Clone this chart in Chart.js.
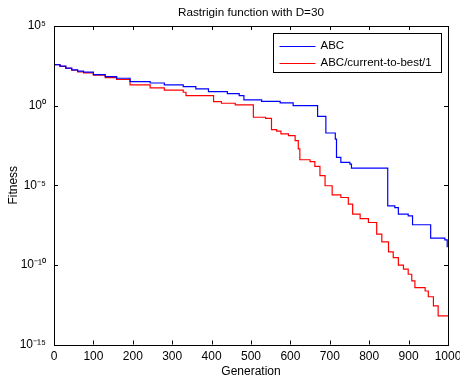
<!DOCTYPE html>
<html>
<head>
<meta charset="utf-8">
<script src="https://cdn.jsdelivr.net/npm/chart.js@4.4.0/dist/chart.umd.min.js"></script>
<style>
html,body{margin:0;padding:0;background:#fff;}
canvas{display:block;}
</style>
</head>
<body>
<canvas id="c" width="460" height="379"></canvas>
<script>
// ---- data ----
const chartTitle = 'Rastrigin function with D=30';
const xLabel = 'Generation';
const yLabel = 'Fitness';
const seriesNames = ['ABC', 'ABC/current-to-best/1'];
const xTicks = [0, 100, 200, 300, 400, 500, 600, 700, 800, 900, 1000];
const yTickExponents = [5, 0, -5, -10, -15];

const abcGen = [0, 15, 30, 45, 60, 75, 100, 130, 159, 193, 244, 280, 328, 360, 392, 440, 470, 482, 527, 574, 607, 669, 690, 714, 717, 728, 751, 755, 847, 865, 874, 899, 910, 956, 992, 998];
const abcFit = [380, 302, 229, 178, 145, 126, 89.1, 66.1, 52.5, 32.4, 26.3, 20.0, 15.5, 11.2, 7.59, 5.62, 4.27, 2.29, 1.86, 1.48, 1.0, 0.214, 0.0191, 0.00794, 5.62e-4, 2.75e-4, 2.14e-4, 1.20e-4, 5.13e-7, 3.98e-7, 1.55e-7, 1.20e-7, 3.31e-8, 4.79e-9, 3.72e-9, 1.26e-9];

const ctbGen = [0, 15, 30, 45, 60, 75, 100, 130, 159, 193, 244, 280, 328, 335, 405, 425, 460, 506, 537, 552, 565, 576, 595, 612, 620, 624, 650, 662, 675, 688, 706, 728, 747, 758, 777, 798, 819, 832, 849, 861, 874, 887, 899, 908, 916, 942, 950, 963, 975, 1000];
const ctbFit = [380, 295, 219, 166, 132, 115, 83.2, 57.5, 43.7, 20.0, 12.9, 9.33, 6.92, 4.27, 1.78, 1.41, 1.10, 0.186, 0.158, 0.0309, 0.0251, 0.0166, 0.0129, 0.00631, 0.00191, 3.98e-4, 3.02e-4, 1.55e-4, 3.98e-5, 9.33e-6, 2.51e-6, 1.70e-6, 6.61e-7, 1.55e-7, 8.13e-8, 4.57e-8, 8.51e-9, 2.82e-9, 6.61e-10, 2.88e-10, 9.55e-11, 5.37e-11, 2.57e-11, 1.0e-11, 3.72e-12, 2.29e-12, 1.0e-12, 2.63e-13, 6.31e-14, 6.31e-14];

const seriesColors = ['#0000ff', '#ff0000'];

// ---- helpers ----
const FONT = 'Liberation Sans, Arial, Helvetica, sans-serif';
const supMap = {'0':'⁰','1':'¹','2':'²','3':'³','4':'⁴','5':'⁵','6':'⁶','7':'⁷','8':'⁸','9':'⁹','-':'⁻'};
function supText(n){ return String(n).split('').map(c => supMap[c]).join(''); }
function pts(xs, ys){ return xs.map((x, i) => ({x: x, y: ys[i]})); }

const framePlugin = {
  id: 'frame',
  afterDraw(chart) {
    const ctx = chart.ctx, a = chart.chartArea;
    const xs = chart.scales.x, ys = chart.scales.y;
    ctx.save();
    // title
    ctx.fillStyle = '#000';
    ctx.font = '11.7px ' + FONT;
    ctx.textAlign = 'center';
    ctx.textBaseline = 'middle';
    ctx.fillText(chartTitle, (a.left + a.right) / 2, 13);
    // box
    ctx.strokeStyle = '#000';
    ctx.lineWidth = 1;
    ctx.strokeRect(Math.round(a.left) + 0.5, Math.round(a.top) + 0.5, Math.round(a.right - a.left), Math.round(a.bottom - a.top));
    // inward ticks
    const L = 4;
    ctx.beginPath();
    xTicks.forEach(v => {
      const px = Math.round(xs.getPixelForValue(v)) + 0.5;
      ctx.moveTo(px, a.bottom); ctx.lineTo(px, a.bottom - L);
      ctx.moveTo(px, a.top); ctx.lineTo(px, a.top + L);
    });
    yTickExponents.forEach(e => {
      const py = Math.round(ys.getPixelForValue(Math.pow(10, e))) + 0.5;
      ctx.moveTo(a.left, py); ctx.lineTo(a.left + L, py);
      ctx.moveTo(a.right, py); ctx.lineTo(a.right - L, py);
    });
    ctx.stroke();
    // legend
    ctx.font = '11.5px ' + FONT;
    const bx = Math.round(a.right - 175) + 0.5, by = Math.round(a.top + 7) + 0.5, bw = 168, bh = 39;
    ctx.fillStyle = '#fff';
    ctx.fillRect(bx, by, bw, bh);
    ctx.strokeRect(bx, by, bw, bh);
    ctx.textAlign = 'left';
    chart.data.datasets.forEach((ds, i) => {
      const ly = by + 12 + i * 17;
      ctx.strokeStyle = ds.borderColor;
      ctx.lineWidth = 1;
      ctx.beginPath();
      ctx.moveTo(bx + 6, Math.round(ly) + 0.5);
      ctx.lineTo(bx + 42, Math.round(ly) + 0.5);
      ctx.stroke();
      ctx.fillStyle = '#000';
      ctx.fillText(ds.label, bx + 47, ly);
    });
    ctx.restore();
  }
};

const bgPlugin = {
  id: 'bg',
  beforeDraw(chart) {
    const ctx = chart.ctx;
    ctx.save();
    ctx.fillStyle = '#fff';
    ctx.fillRect(0, 0, chart.width, chart.height);
    ctx.restore();
  }
};

new Chart(document.getElementById('c'), {
  type: 'line',
  data: {
    datasets: [
      { label: seriesNames[0], data: pts(abcGen, abcFit), borderColor: seriesColors[0], backgroundColor: seriesColors[0], borderWidth: 1.2, pointRadius: 0, stepped: 'before', fill: false },
      { label: seriesNames[1], data: pts(ctbGen, ctbFit), borderColor: seriesColors[1], backgroundColor: seriesColors[1], borderWidth: 1.2, pointRadius: 0, stepped: 'before', fill: false }
    ]
  },
  options: {
    responsive: false,
    animation: false,
    devicePixelRatio: 1,
    layout: { padding: { left: 0, right: 12, top: 26, bottom: 0 }, autoPadding: false },
    plugins: { legend: { display: false }, title: { display: false }, tooltip: { enabled: false } },
    scales: {
      x: {
        type: 'linear', min: 0, max: 1000,
        afterBuildTicks(s) { s.ticks = xTicks.map(v => ({ value: v })); },
        ticks: { color: '#000', font: { family: FONT, size: 12 }, padding: 5, maxRotation: 0, autoSkip: false,
          callback(v) { return String(v); } },
        grid: { display: false, drawTicks: false },
        border: { display: false },
        title: { display: true, text: xLabel, color: '#000', font: { family: FONT, size: 12 }, padding: { top: 0, bottom: 0 } },
        afterFit(s) { s.height = 34.5; s.paddingLeft = 0; s.paddingRight = 0; }
      },
      y: {
        type: 'logarithmic', min: 1e-15, max: 1e5,
        afterBuildTicks(s) { s.ticks = yTickExponents.map(e => ({ value: Math.pow(10, e) })); },
        ticks: {
          color: '#000', font: { family: FONT, size: 12 }, padding: 8, autoSkip: false,
          callback(v) { const e = Math.round(Math.log10(v)); return '10' + supText(e); }
        },
        grid: { display: false, drawTicks: false },
        border: { display: false },
        title: { display: true, text: yLabel, color: '#000', font: { family: FONT, size: 12 }, padding: { top: 6, bottom: 6 } },
        afterFit(s) { s.width = 54; s.paddingTop = 0; s.paddingBottom = 0; }
      }
    }
  },
  plugins: [bgPlugin, framePlugin]
});
</script>
</body>
</html>
